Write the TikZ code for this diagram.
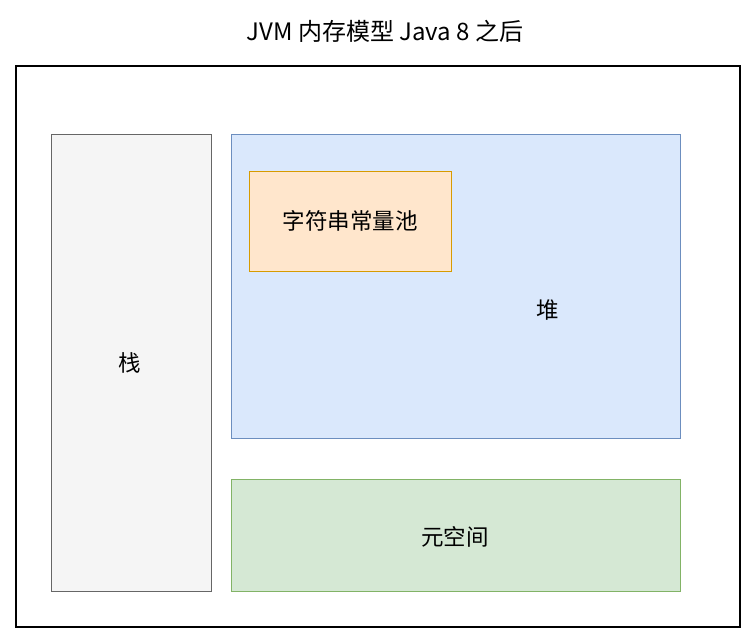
\documentclass[tikz,border=0pt]{standalone}
\usepackage{fontspec}
\setmainfont{Noto Sans CJK SC}
\begin{document}
\begin{tikzpicture}[x=1pt,y=-1pt,
  box/.style={draw=#1,line width=1pt},
  lab/.style={font=\fontsize{22.5}{26}\selectfont}]
\useasboundingbox (0,0) rectangle (755,638);
\node[font=\fontsize{24}{28}\selectfont] (title) at (385,31) {JVM 内存模型 Java 8 之后};
\draw[line width=1.2pt] (16,66) rectangle (740,627);
\draw[box={black!60},fill={black!4}] (51,134) rectangle (211,591);
\node[lab] (stack) at (130,363) {栈};
\definecolor{hf}{HTML}{DAE8FC}\definecolor{hs}{HTML}{6C8EBF}
\definecolor{pf}{HTML}{FFE6CC}\definecolor{ps}{HTML}{D79B00}
\definecolor{mf}{HTML}{D5E8D4}\definecolor{ms}{HTML}{82B366}
\draw[box=hs,fill=hf] (231,134) rectangle (680,438);
\node[lab] (heap) at (548,310) {堆};
\draw[box=ps,fill=pf] (249,171) rectangle (451,271);
\node[lab] (pool) at (350,221) {字符串常量池};
\draw[box=ms,fill=mf] (231,479) rectangle (680,591);
\node[lab] (meta) at (455,537) {元空间};
\end{tikzpicture}
\end{document}
